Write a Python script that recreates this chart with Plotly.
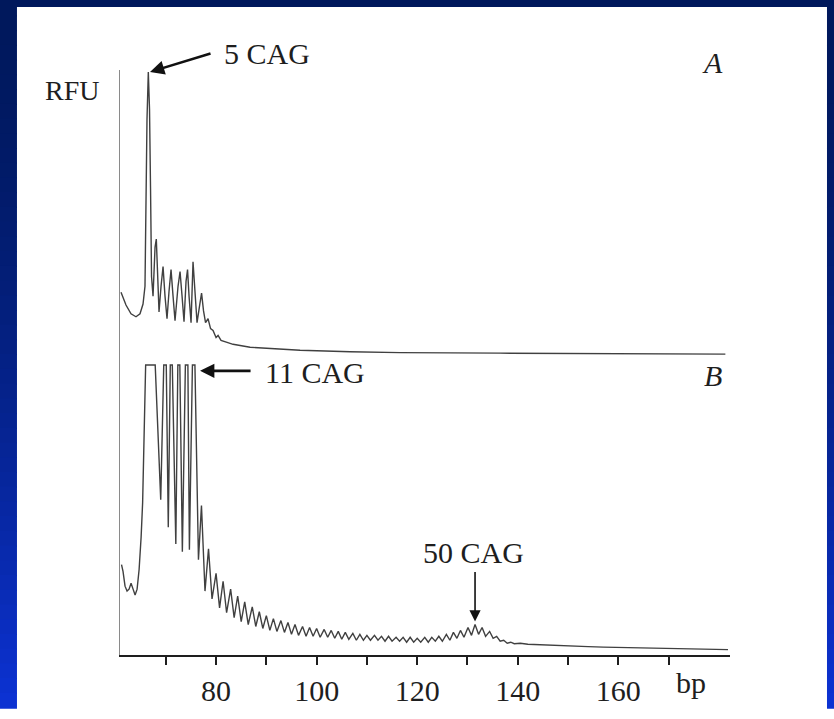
import plotly.graph_objects as go

# ---------------- data ----------------
# Trace A (normal allele, 5 CAG) : fragment size (bp) and signal (RFU, arbitrary)
A_bp = [61.10, 62.09, 63.09, 64.08, 64.88, 65.48, 65.87, 66.07, 66.27, 66.53,
        66.77, 66.97, 67.17, 67.47, 67.87, 68.12, 68.36, 68.66, 69.06, 69.46,
        69.85, 70.25, 70.65, 71.05, 71.45, 71.84, 72.44, 72.84, 73.24, 73.63,
        74.03, 74.33, 74.63, 75.03, 75.42, 75.82, 76.22, 76.72, 77.12, 77.51,
        77.91, 78.41, 78.91, 79.40, 80.00, 80.40, 80.99, 82.19, 83.38, 86.77,
        90.15, 96.71, 106.66, 116.61, 136.50, 156.41, 181.28]
A_rfu = [62, 49, 40, 37, 40, 50, 68, 158, 238, 286,
         248, 168, 78, 58, 108, 116, 78, 42, 68, 88,
         58, 35, 63, 85, 58, 33, 68, 83, 58, 32,
         73, 85, 58, 31, 93, 58, 31, 48, 61, 43,
         31, 35, 25, 23, 16, 18, 13, 11, 9, 6,
         5, 3, 1.5, 0.5, 0, -0.5, -1]

# Trace B (11 CAG + expanded 50 CAG allele)
B_bp = [61.2, 61.5, 61.9, 62.3, 62.7, 63.1, 63.5, 63.9, 64.3, 64.7,
        65.1, 65.4, 65.7, 66.0, 67.9, 68.5, 69.0, 69.6, 70.1, 70.5,
        70.9, 71.3, 72.0, 72.4, 72.8, 73.3, 73.9, 74.4, 74.7, 75.3,
        75.8, 76.5, 77.1, 77.8, 78.5, 79.2,
        80.0, 80.7, 81.4, 82.1, 82.9, 83.6, 84.3, 85.0, 85.7, 86.4,
        87.2, 87.9, 88.6, 89.3, 90.0, 90.7, 91.4, 92.1, 92.9, 93.6,
        94.3, 95.0, 95.7, 96.4, 97.2, 97.9, 98.6, 99.3, 100.0, 100.7,
        101.5, 102.2, 102.9, 103.6, 104.3, 105.0, 105.7, 106.4, 107.2, 107.9,
        108.6, 109.3, 110.0, 110.7, 111.5, 112.2, 112.9, 113.6, 114.3, 115.0,
        115.8, 116.5, 117.2, 117.9, 118.6, 119.3, 120.0, 120.7, 121.5, 122.2,
        122.9, 123.6, 124.3, 125.0, 125.8, 126.5, 127.2, 127.9, 128.6, 129.3,
        130.1, 130.8, 131.5, 132.2, 132.9, 133.6, 134.4, 135.1, 135.8, 136.5,
        137.2, 137.9, 138.6, 139.3,
        140.5, 142.0, 144.0, 146.0, 148.0, 151.0, 154.0, 157.0, 161.0, 165.0,
        170.0, 175.0, 181.8]
B_rfu = [92, 85, 70, 65, 67, 73, 67, 61, 67, 87,
         120, 155, 225, 295, 295, 225, 158, 295, 295, 130,
         295, 295, 113, 295, 295, 105, 295, 295, 107, 295,
         295, 97, 152, 65, 108, 57,
         83, 48, 75, 43, 67, 38, 60, 34, 54, 31,
         49, 29, 44, 27, 40, 25, 37, 24, 35, 23,
         33, 21, 31, 20, 29, 19, 28, 19, 27, 18,
         26, 18, 25, 17, 24, 16, 23, 16, 22, 15,
         21, 15, 20, 15, 20, 15, 19, 14, 19, 14,
         18, 14, 18, 13, 18, 13, 17, 13, 18, 13,
         18, 14, 19, 14, 21, 15, 23, 17, 25, 18,
         28, 20, 31, 21, 28, 19, 24, 17, 19, 14,
         15, 12, 13, 11.5,
         12, 11, 10.5, 10, 9.5, 9, 8.5, 8, 7.5, 7,
         6.5, 6, 5.5]

tick_vals = [70, 80, 90, 100, 110, 120, 130, 140, 150, 160, 170]
tick_text = ["", "80", "", "100", "", "120", "", "140", "", "160", ""]

# annotated peaks: (bp, rfu)
peak_5cag = (66.87, 286)    # on trace A axis
peak_11cag = (76.82, 289)   # on trace B axis
peak_50cag = (131.5, 34)    # on trace B axis

# ---------------- figure ----------------
SERIF = "Liberation Serif, Times New Roman, serif"
LINE = "#404040"

fig = go.Figure()
fig.add_trace(go.Scatter(x=B_bp, y=B_rfu, mode="lines", yaxis="y",
                         line=dict(color=LINE, width=1.4), hoverinfo="skip"))
fig.add_trace(go.Scatter(x=A_bp, y=A_rfu, mode="lines", yaxis="y2",
                         line=dict(color=LINE, width=1.4), hoverinfo="skip"))

# background: blue gradient frame around a white sheet
shapes = []
N = 48
top = (0, 24, 92)
bot = (12, 50, 212)
y_top, y_bot = 1.1176, -0.0908
for i in range(N):
    t0 = i / N
    t1 = (i + 1) / N
    tm = ((t0 + t1) / 2) ** 1.6
    c = tuple(int(round(top[k] + (bot[k] - top[k]) * tm)) for k in range(3))
    col = "rgb(%d,%d,%d)" % c
    ya = y_top + (y_bot - y_top) * t0
    yb = y_top + (y_bot - y_top) * t1
    for xa, xb in ((-0.25, -0.1689), (1.159, 1.25)):
        shapes.append(dict(type="rect", xref="paper", yref="paper",
                           x0=xa, x1=xb, y0=yb - 0.001, y1=ya + 0.001,
                           fillcolor=col, line=dict(width=0), layer="below"))
shapes.append(dict(type="rect", xref="paper", yref="paper",
                   x0=-0.25, x1=1.25, y0=1.1076, y1=1.2,
                   fillcolor="rgb(0,24,92)", line=dict(width=0), layer="below"))

ann = []
txt = dict(family=SERIF, size=30, color="#1e1e1e")
ann.append(dict(text="RFU", xref="paper", yref="paper", x=-0.079, y=0.9647,
                showarrow=False, font=dict(family=SERIF, size=28, color="#1e1e1e"),
                xanchor="center", yanchor="middle"))
ann.append(dict(text="5 CAG", xref="paper", yref="paper", x=0.1672, y=1.0286,
                showarrow=False, font=txt, xanchor="left", yanchor="middle"))
ann.append(dict(text="<i>A</i>", xref="paper", yref="paper", x=0.9721, y=1.0134,
                showarrow=False, font=txt, xanchor="center", yanchor="middle"))
ann.append(dict(text="<i>B</i>", xref="paper", yref="paper", x=0.9721, y=0.4773,
                showarrow=False, font=txt, xanchor="center", yanchor="middle"))
ann.append(dict(text="11 CAG", xref="paper", yref="paper", x=0.2344, y=0.4824,
                showarrow=False, font=txt, xanchor="left", yanchor="middle"))
ann.append(dict(text="50 CAG", xref="paper", yref="paper", x=0.5787, y=0.1748,
                showarrow=False, font=txt, xanchor="center", yanchor="middle"))
ann.append(dict(text="bp", xref="paper", yref="paper", x=0.936, y=-0.047,
                showarrow=False, font=txt, xanchor="center", yanchor="middle"))
# arrows
ann.append(dict(text="", x=peak_5cag[0], y=peak_5cag[1], xref="x", yref="y2",
                showarrow=True, ax=62, ay=-19, arrowhead=2, arrowsize=1.1,
                arrowwidth=2.6, arrowcolor="#111"))
ann.append(dict(text="", x=peak_11cag[0], y=peak_11cag[1], xref="x", yref="y",
                showarrow=True, ax=52, ay=0, arrowhead=2, arrowsize=1.1,
                arrowwidth=2.6, arrowcolor="#111"))
ann.append(dict(text="", x=peak_50cag[0], y=peak_50cag[1], xref="x", yref="y",
                showarrow=True, ax=0, ay=-51, arrowhead=2, arrowsize=1.4,
                arrowwidth=1.6, arrowcolor="#111"))

fig.update_layout(
    width=834, height=719,
    margin=dict(l=120, r=104, t=70, b=54),
    paper_bgcolor="white", plot_bgcolor="white",
    showlegend=False,
    shapes=shapes, annotations=ann,
    xaxis=dict(range=[60.9, 182.2], tickvals=tick_vals, ticktext=tick_text,
               ticks="outside", ticklen=8, tickwidth=2, tickcolor="#1e1e1e",
               showline=True, linecolor="#1e1e1e", linewidth=2,
               showgrid=False, zeroline=False,
               tickfont=dict(family=SERIF, size=30, color="#1e1e1e")),
    yaxis=dict(range=[0, 595], showline=True, linecolor="#8a8a8a", linewidth=1.3,
               showticklabels=False, ticks="", showgrid=False, zeroline=False),
    yaxis2=dict(range=[-307, 288], overlaying="y", visible=False),
)

fig.write_html("out.html", config={"displayModeBar": False},
               post_script="document.body.style.margin='0';document.body.style.overflow='hidden';")
